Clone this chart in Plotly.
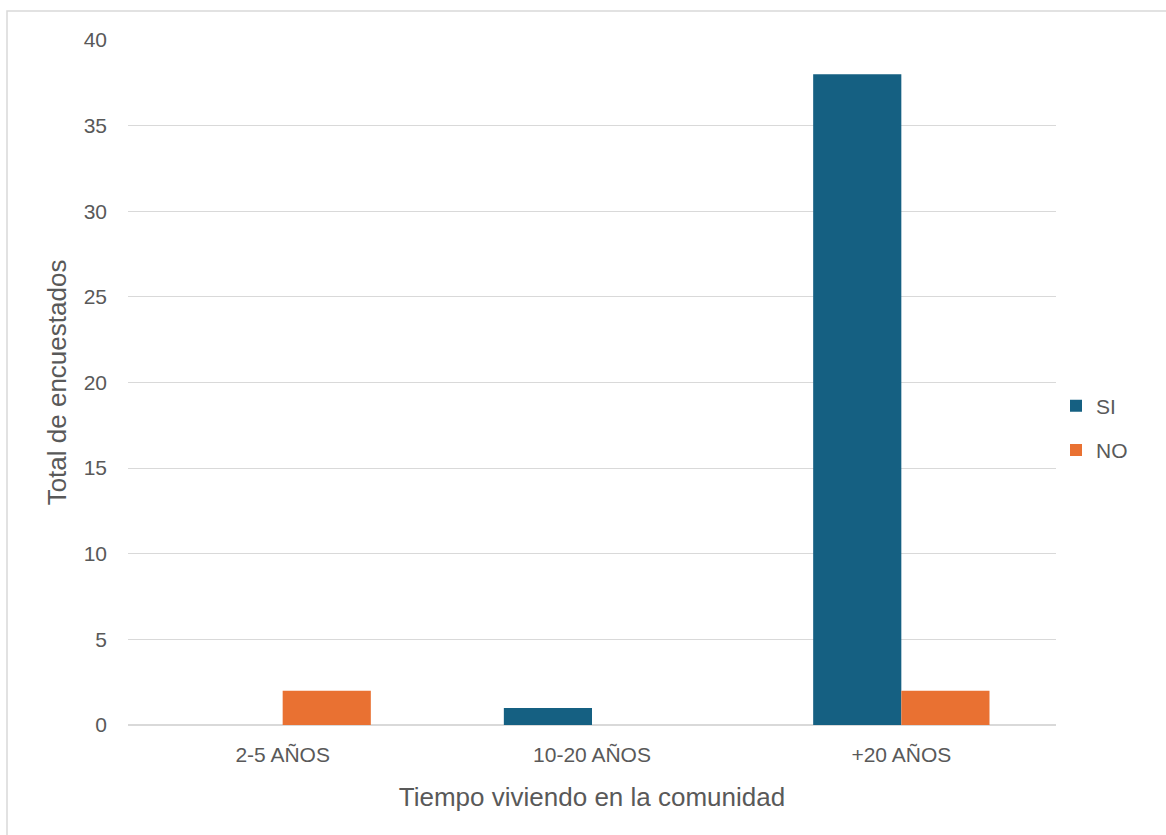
import plotly.graph_objects as go

# Survey responses by time living in the community
categories = ["2-5 AÑOS", "10-20 AÑOS", "+20 AÑOS"]
si_values = [0, 1, 38]
no_values = [2, 0, 2]
y_ticks = [0, 5, 10, 15, 20, 25, 30, 35, 40]

TEXT = "#595959"
GRID = "#D9D9D9"
FONT = "Liberation Sans, Arial, sans-serif"

fig = go.Figure()
fig.add_trace(go.Bar(name="SI", x=categories, y=si_values,
                     marker=dict(color="#156082", line=dict(width=0)),
                     legendgroup="si"))
fig.add_trace(go.Bar(name="NO", x=categories, y=no_values,
                     marker=dict(color="#E97132", line=dict(width=0)),
                     legendgroup="no"))

fig.update_layout(
    width=1166, height=835,
    margin=dict(l=128, r=110, t=40, b=110),
    paper_bgcolor="white", plot_bgcolor="white",
    barmode="group", bargap=0.43, bargroupgap=0,
    font=dict(family=FONT, color=TEXT, size=21),
    legend=dict(x=1.0, xanchor="left", y=(725 - 428) / 685, yanchor="middle",
                font=dict(size=21, color=TEXT), traceorder="grouped",
                tracegroupgap=14, bgcolor="rgba(0,0,0,0)"),
    xaxis=dict(showgrid=False, showline=True, linecolor=GRID, linewidth=1,
               ticks="", ticklabelstandoff=11, tickfont=dict(size=21, color=TEXT),
               title=dict(text="Tiempo viviendo en la comunidad",
                          font=dict(size=26, color=TEXT), standoff=22)),
    yaxis=dict(range=[0, 40], tickvals=y_ticks, showgrid=True,
               gridcolor=GRID, gridwidth=1, zeroline=True, zerolinecolor=GRID,
               showline=False, ticks="", ticklabelstandoff=20,
               tickfont=dict(size=21, color=TEXT),
               title=dict(text="Total de encuestados",
                          font=dict(size=26, color=TEXT), standoff=9)),
    shapes=[dict(type="rect", xref="paper", yref="paper",
                 x0=(7 - 128) / 928, x1=(1180 - 128) / 928,
                 y0=-(850 - 725) / 685, y1=(725 - 11) / 685,
                 line=dict(color="#D9D9D9", width=1.5), layer="below")],
)

fig.write_html("out.html")
